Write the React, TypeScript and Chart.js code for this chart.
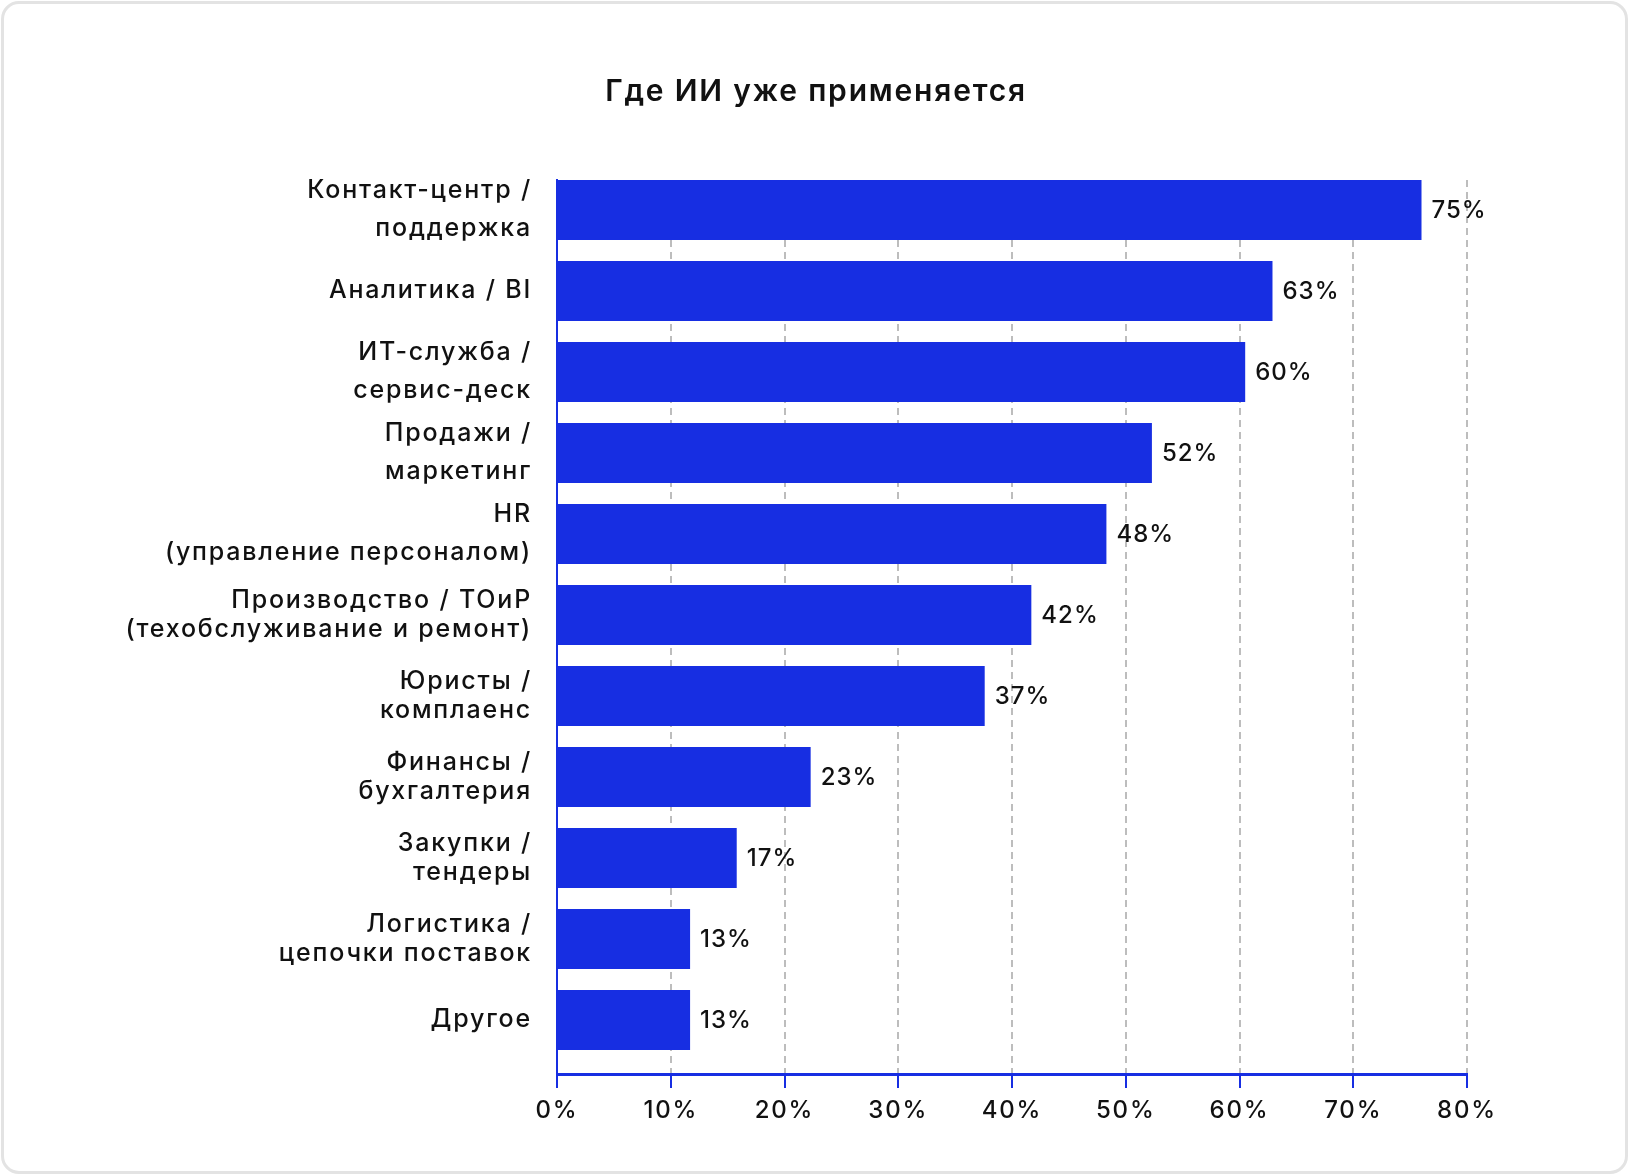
import { useEffect, useRef } from 'react';
import { Chart, registerables } from 'chart.js';

Chart.register(...registerables);

// categories, top to bottom
const categories: string[][] = [
  ['Контакт-центр /', 'поддержка'],
  ['Аналитика / BI'],
  ['ИТ-служба /', 'сервис-деск'],
  ['Продажи /', 'маркетинг'],
  ['HR', '(управление персоналом)'],
  ['Производство / ТОиР', '(техобслуживание и ремонт)'],
  ['Юристы /', 'комплаенс'],
  ['Финансы /', 'бухгалтерия'],
  ['Закупки /', 'тендеры'],
  ['Логистика /', 'цепочки поставок'],
  ['Другое'],
];

// bar lengths as drawn in the picture
const shares = [76, 62.9, 60.5, 52.3, 48.3, 41.7, 37.6, 22.3, 15.8, 11.7, 11.7];
// printed value labels
const shareLabels = ['75%', '63%', '60%', '52%', '48%', '42%', '37%', '23%', '17%', '13%', '13%'];

const xTickValues = [0, 10, 20, 30, 40, 50, 60, 70, 80];

const TITLE = 'Где ИИ уже применяется';
const BLUE = '#172ee2';
const FONT = 'Inter, "Noto Sans", sans-serif';
const SPACING = '1.8px';

// wider tracking for all canvas text (the original font is a wide geometric one)
const trackingPlugin = {
  id: 'tracking',
  beforeUpdate(chart: Chart) {
    (chart.ctx as any).letterSpacing = SPACING;
  },
  beforeDraw(chart: Chart) {
    (chart.ctx as any).letterSpacing = SPACING;
  },
};

const valueLabelPlugin = {
  id: 'valueLabels',
  afterDatasetsDraw(chart: Chart) {
    const ctx = chart.ctx;
    const meta = chart.getDatasetMeta(0);
    ctx.save();
    ctx.font = `500 24px ${FONT}`;
    (ctx as any).letterSpacing = '1px';
    ctx.fillStyle = '#111';
    ctx.textAlign = 'left';
    ctx.textBaseline = 'middle';
    meta.data.forEach((bar: any, i: number) => {
      ctx.fillText(shareLabels[i], bar.x + 10, bar.y + 1);
    });
    ctx.restore();
  },
};

export default function App() {
  const canvasRef = useRef<HTMLCanvasElement>(null);
  const chartRef = useRef<Chart | null>(null);

  useEffect(() => {
    if (!canvasRef.current) return;
    if (chartRef.current) {
      chartRef.current.destroy();
      chartRef.current = null;
    }

    chartRef.current = new Chart(canvasRef.current, {
      type: 'bar',
      data: {
        datasets: [
          {
            data: shares.map((v, i) => ({ x: v, y: i })),
            backgroundColor: BLUE,
            borderWidth: 0,
            barPercentage: 0.74,
            categoryPercentage: 1,
            xAxisID: 'x',
            yAxisID: 'y',
          },
        ],
      },
      options: {
        indexAxis: 'y',
        animation: false,
        responsive: true,
        maintainAspectRatio: false,
        layout: { padding: 0 },
        plugins: {
          legend: { display: false },
          tooltip: { enabled: false },
          title: {
            display: true,
            text: TITLE,
            color: '#111',
            font: { family: FONT, size: 30, weight: '600', lineHeight: 1.2 },
            padding: { top: 74, bottom: 70 },
          },
        },
        scales: {
          x: {
            type: 'linear',
            min: 0,
            max: 80,
            afterBuildTicks: (scale: any) => {
              scale.ticks = xTickValues.map((v) => ({ value: v }));
            },
            afterFit: (scale: any) => {
              scale.height = 102;
            },
            ticks: {
              callback: (v: any) => `${v}%`,
              color: '#111',
              font: { family: FONT, size: 24, weight: '500' },
              padding: 8,
            },
            grid: {
              color: '#bdbdbd',
              lineWidth: 2,
              tickColor: BLUE,
              tickWidth: 2,
              tickLength: 14,
              tickBorderDash: [],
            },
            border: { display: true, color: BLUE, width: 3, dash: [7, 5] },
          },
          y: {
            type: 'linear',
            position: 'left',
            reverse: true,
            offset: false,
            min: -0.37,
            max: 10.667,
            afterBuildTicks: (scale: any) => {
              scale.ticks = categories.map((_, i) => ({ value: i }));
            },
            afterFit: (scale: any) => {
              scale.width = 557;
            },
            ticks: {
              autoSkip: false,
              callback: (v: any) => categories[v] ?? '',
              color: '#111',
              padding: 25,
              font: (ctx: any) => ({
                family: FONT,
                size: 25,
                weight: '500',
                lineHeight: ctx.index < 5 ? '38px' : '29px',
              }),
            },
            grid: { display: false, drawTicks: false, offset: false },
            border: { display: true, color: BLUE, width: 2 },
          },
          // empty right-hand box that keeps the plot clear of the right margin
          spacer: {
            type: 'linear',
            axis: 'y',
            position: 'right',
            display: true,
            afterFit: (scale: any) => {
              scale.width = 165;
            },
            ticks: { display: false },
            grid: { display: false, drawTicks: false },
            border: { display: false },
          },
        },
      },
      plugins: [trackingPlugin, valueLabelPlugin],
    } as any);

    return () => {
      if (chartRef.current) {
        chartRef.current.destroy();
        chartRef.current = null;
      }
    };
  }, []);

  return (
    <div
      style={{
        position: 'absolute',
        left: 0,
        top: 0,
        width: 1632,
        height: 1176,
        background: '#fff',
      }}
    >
      <canvas ref={canvasRef} />
      <div
        style={{
          position: 'absolute',
          left: 1,
          top: 1,
          right: 4,
          bottom: 2,
          border: '3px solid #e3e3e3',
          borderRadius: 18,
          boxSizing: 'border-box',
          pointerEvents: 'none',
        }}
      />
    </div>
  );
}
